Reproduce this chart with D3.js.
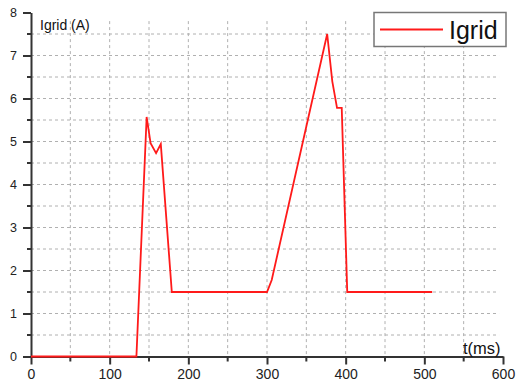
<!DOCTYPE html>
<html>
<head>
<meta charset="utf-8">
<script src="https://cdn.jsdelivr.net/npm/d3@7"></script>
<style>
  body { margin: 0; background: #fff; }
  svg text { font-family: "Liberation Sans", Arial, sans-serif; }
</style>
</head>
<body>
<div id="chart"></div>
<script>
// Data
var tValues = [0, 134, 147, 152, 159, 165, 179, 300, 306, 376.5, 383, 389, 395, 402, 510];
var iValues = [0, 0, 5.57, 4.96, 4.73, 4.94, 1.5, 1.5, 1.78, 7.5, 6.4, 5.78, 5.78, 1.5, 1.5];
var xTicks = [0, 100, 200, 300, 400, 500, 600];
var yTicks = [0, 1, 2, 3, 4, 5, 6, 7, 8];
var seriesName = "Igrid";

// Set the dimensions and margins of the graph
var margin = {top: 12.5, right: 13, bottom: 28.5, left: 31},
    width = 516 - margin.left - margin.right,
    height = 385 - margin.top - margin.bottom;

var svg = d3.select("#chart")
  .append("svg")
    .attr("width", 516)
    .attr("height", 385)
  .append("g")
    .attr("transform", "translate(" + margin.left + "," + margin.top + ")");

var x = d3.scaleLinear().domain([0, 600]).range([0, width]);
var y = d3.scaleLinear().domain([0, 8]).range([height, 0]);

// Dashed grid, every 50 ms and every 0.5 A
var gridX = d3.range(50, 600, 50);
var gridY = d3.range(0.5, 8, 0.5);

svg.selectAll(".gx")
  .data(gridX)
  .enter().append("line")
    .attr("x1", d => x(d)).attr("x2", d => x(d))
    .attr("y1", y(7.8)).attr("y2", y(0))
    .attr("stroke", "#b0b0b0")
    .attr("stroke-width", 1)
    .attr("stroke-dasharray", "3,3");

svg.selectAll(".gy")
  .data(gridY)
  .enter().append("line")
    .attr("x1", x(0)).attr("x2", x(595))
    .attr("y1", d => y(d)).attr("y2", d => y(d))
    .attr("stroke", "#b0b0b0")
    .attr("stroke-width", 1)
    .attr("stroke-dasharray", "3,3");

// Draw the x axis
var xAxis = svg.append("g")
  .attr("transform", "translate(0," + height + ")")
  .call(d3.axisBottom(x).tickValues(xTicks).tickSize(8).tickSizeOuter(0).tickPadding(5));

// minor x ticks
xAxis.selectAll(".minor")
  .data(d3.range(50, 600, 100))
  .enter().append("line")
    .attr("x1", d => x(d)).attr("x2", d => x(d))
    .attr("y1", 0).attr("y2", 5)
    .attr("stroke", "#333").attr("stroke-width", 2);

// Draw the y axis
var yAxis = svg.append("g")
  .call(d3.axisLeft(y).tickValues(yTicks).tickSize(8).tickSizeOuter(0).tickPadding(6));

// minor y ticks
yAxis.selectAll(".minor")
  .data(d3.range(0.5, 8, 1))
  .enter().append("line")
    .attr("x1", -4).attr("x2", 0)
    .attr("y1", d => y(d)).attr("y2", d => y(d))
    .attr("stroke", "#333").attr("stroke-width", 2);

svg.selectAll(".domain").attr("stroke", "#333").attr("stroke-width", 2);
svg.selectAll(".tick line").attr("stroke", "#333").attr("stroke-width", 2);
xAxis.selectAll(".tick text").style("font-size", "14px").attr("fill", "#222");
yAxis.selectAll(".tick text").style("font-size", "12.5px").attr("fill", "#222");

// The Igrid line
var data = tValues.map(function(t, i) { return {t: t, v: iValues[i]}; });
var line = d3.line()
  .x(d => x(d.t))
  .y(d => y(d.v));

svg.append("path")
  .datum(data)
  .attr("fill", "none")
  .attr("stroke", "#ff1a1a")
  .attr("stroke-width", 1.8)
  .attr("stroke-linejoin", "miter")
  .attr("d", line);

// Axis titles
svg.append("text")
  .attr("x", 9)
  .attr("y", 17.5)
  .style("font-size", "14px")
  .attr("fill", "#111")
  .text("Igrid (A)");

svg.append("text")
  .attr("x", 432)
  .attr("y", 341.5)
  .style("font-size", "16.5px")
  .attr("fill", "#111")
  .text("t(ms)");

// Legend
var legend = svg.append("g")
  .attr("transform", "translate(" + (374 - margin.left) + "," + (12.5 - margin.top) + ")");

legend.append("rect")
  .attr("x", 0).attr("y", 0)
  .attr("width", 132).attr("height", 34)
  .attr("fill", "#fff")
  .attr("stroke", "#777")
  .attr("stroke-width", 1.5);

legend.append("line")
  .attr("x1", 6).attr("x2", 69)
  .attr("y1", 17).attr("y2", 17)
  .attr("stroke", "#ff1a1a")
  .attr("stroke-width", 1.8);

legend.append("text")
  .attr("x", 75)
  .attr("y", 26)
  .style("font-size", "25px")
  .attr("fill", "#111")
  .text(seriesName);
</script>
</body>
</html>
